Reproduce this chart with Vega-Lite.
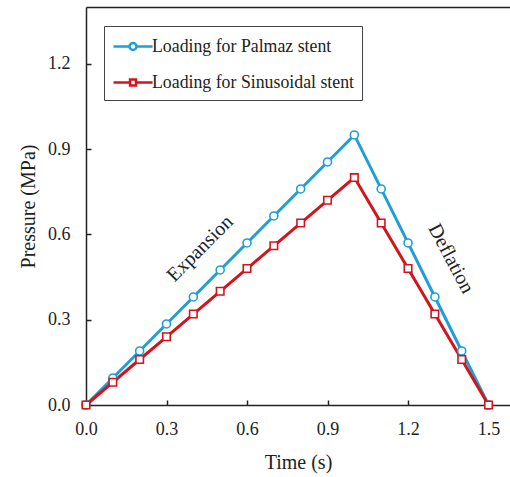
{
  "$schema": "https://vega.github.io/schema/vega-lite/v6.json",
  "width": 424,
  "height": 398,
  "autosize": {"type": "none"},
  "padding": {"left": 86, "top": 7, "right": 0, "bottom": 72},
  "background": "white",
  "config": {
    "view": {"stroke": null},
    "font": "Liberation Serif",
    "axis": {
      "domainColor": "#222", "domainWidth": 1.5, "tickColor": "#222", "tickWidth": 1.5,
      "grid": false, "labelFont": "Liberation Serif", "labelFontSize": 18, "labelColor": "#222", "labelFlush": false,
      "titleFont": "Liberation Serif", "titleFontSize": 20, "titleFontWeight": "normal", "titleColor": "#222"
    },
    "legend": {"labelFont": "Liberation Serif", "labelFontSize": 17.8, "labelColor": "#222", "labelLimit": 400}
  },
  "datasets": {
    "series": [
      {"t": 0.0, "p": 0.0, "s": "Loading for Palmaz stent"},
      {"t": 0.1, "p": 0.095, "s": "Loading for Palmaz stent"},
      {"t": 0.2, "p": 0.19, "s": "Loading for Palmaz stent"},
      {"t": 0.3, "p": 0.285, "s": "Loading for Palmaz stent"},
      {"t": 0.4, "p": 0.38, "s": "Loading for Palmaz stent"},
      {"t": 0.5, "p": 0.475, "s": "Loading for Palmaz stent"},
      {"t": 0.6, "p": 0.57, "s": "Loading for Palmaz stent"},
      {"t": 0.7, "p": 0.665, "s": "Loading for Palmaz stent"},
      {"t": 0.8, "p": 0.76, "s": "Loading for Palmaz stent"},
      {"t": 0.9, "p": 0.855, "s": "Loading for Palmaz stent"},
      {"t": 1.0, "p": 0.95, "s": "Loading for Palmaz stent"},
      {"t": 1.1, "p": 0.76, "s": "Loading for Palmaz stent"},
      {"t": 1.2, "p": 0.57, "s": "Loading for Palmaz stent"},
      {"t": 1.3, "p": 0.38, "s": "Loading for Palmaz stent"},
      {"t": 1.4, "p": 0.19, "s": "Loading for Palmaz stent"},
      {"t": 1.5, "p": 0.0, "s": "Loading for Palmaz stent"},
      {"t": 0.0, "p": 0.0, "s": "Loading for Sinusoidal stent"},
      {"t": 0.1, "p": 0.08, "s": "Loading for Sinusoidal stent"},
      {"t": 0.2, "p": 0.16, "s": "Loading for Sinusoidal stent"},
      {"t": 0.3, "p": 0.24, "s": "Loading for Sinusoidal stent"},
      {"t": 0.4, "p": 0.32, "s": "Loading for Sinusoidal stent"},
      {"t": 0.5, "p": 0.40, "s": "Loading for Sinusoidal stent"},
      {"t": 0.6, "p": 0.48, "s": "Loading for Sinusoidal stent"},
      {"t": 0.7, "p": 0.56, "s": "Loading for Sinusoidal stent"},
      {"t": 0.8, "p": 0.64, "s": "Loading for Sinusoidal stent"},
      {"t": 0.9, "p": 0.72, "s": "Loading for Sinusoidal stent"},
      {"t": 1.0, "p": 0.80, "s": "Loading for Sinusoidal stent"},
      {"t": 1.1, "p": 0.64, "s": "Loading for Sinusoidal stent"},
      {"t": 1.2, "p": 0.48, "s": "Loading for Sinusoidal stent"},
      {"t": 1.3, "p": 0.32, "s": "Loading for Sinusoidal stent"},
      {"t": 1.4, "p": 0.16, "s": "Loading for Sinusoidal stent"},
      {"t": 1.5, "p": 0.0, "s": "Loading for Sinusoidal stent"}
    ],
    "notes": [
      {"t": 0.425, "p": 0.55, "label": "Expansion", "angle": -45},
      {"t": 1.36, "p": 0.515, "label": "Deflation", "angle": 62}
    ]
  },
  "resolve": {"axis": {"x": "independent", "y": "independent"}},
  "layer": [
    {
      "data": {"name": "series"},
      "mark": {"type": "line", "strokeWidth": 3},
      "encoding": {
        "x": {"field": "t", "type": "quantitative", "scale": {"domain": [0, 1.58], "nice": false, "zero": false},
          "axis": {"orient": "bottom", "values": [0, 0.3, 0.6, 0.9, 1.2, 1.5], "format": ".1f", "tickSize": -5, "labelPadding": 20, "title": "Time (s)", "titlePadding": 14}},
        "y": {"field": "p", "type": "quantitative", "scale": {"domain": [0, 1.4], "nice": false},
          "axis": {"orient": "left", "values": [0, 0.3, 0.6, 0.9, 1.2], "format": ".1f", "tickSize": -5, "labelPadding": 21, "title": "Pressure (MPa)", "titlePadding": 9}},
        "color": {"field": "s", "type": "nominal", "scale": {"range": ["#1e9fd8", "#d4141c"]},
          "legend": {
            "title": null, "orient": "none", "legendX": 18, "legendY": 19,
            "strokeColor": "#444", "padding": 8, "rowPadding": 14, "labelOffset": 15,
            "symbolSize": 484, "symbolStrokeWidth": 2.5,
            "encode": {"symbols": {"update": {
              "shape": {"signal": "datum.value === 'Loading for Palmaz stent' ? 'M-1,0H0.455M1.095,0H2.55M1.095,0A0.32,0.32 0 1,1 0.455,0A0.32,0.32 0 1,1 1.095,0Z' : 'M-1,0H0.505M1.045,0H2.55M0.505,-0.27H1.045V0.27H0.505Z'"},
              "fill": {"value": "white"},
              "fillOpacity": {"value": 1},
              "strokeWidth": {"value": 2.5}
            }}}
          }},
        "detail": {"field": "s"}
      }
    },
    {
      "data": {"name": "series"},
      "transform": [{"filter": "datum.s === 'Loading for Palmaz stent'"}],
      "mark": {"type": "point", "shape": "circle", "filled": false, "fill": "white", "fillOpacity": 1, "opacity": 1, "strokeWidth": 1.6, "size": 64, "stroke": "#1e9fd8"},
      "encoding": {
        "x": {"field": "t", "type": "quantitative", "axis": null},
        "y": {"field": "p", "type": "quantitative", "axis": null}
      }
    },
    {
      "data": {"name": "series"},
      "transform": [{"filter": "datum.s === 'Loading for Sinusoidal stent'"}],
      "mark": {"type": "point", "shape": "square", "filled": false, "fill": "white", "fillOpacity": 1, "opacity": 1, "strokeWidth": 1.6, "size": 56, "stroke": "#d4141c"},
      "encoding": {
        "x": {"field": "t", "type": "quantitative", "axis": null},
        "y": {"field": "p", "type": "quantitative", "axis": null}
      }
    },
    {
      "data": {"name": "notes"},
      "mark": {"type": "text", "font": "Liberation Serif", "fontSize": 20, "color": "#222", "align": "center", "baseline": "middle"},
      "encoding": {
        "x": {"field": "t", "type": "quantitative", "axis": null},
        "y": {"field": "p", "type": "quantitative", "axis": null},
        "text": {"field": "label"},
        "angle": {"field": "angle", "type": "quantitative", "scale": null}
      }
    },
    {
      "data": {"name": "notes"},
      "mark": {"type": "rule", "opacity": 0},
      "encoding": {
        "x": {"field": "t", "type": "quantitative",
          "axis": {"orient": "top", "labels": false, "ticks": false, "title": null, "domain": true}}
      }
    }
  ]
}
